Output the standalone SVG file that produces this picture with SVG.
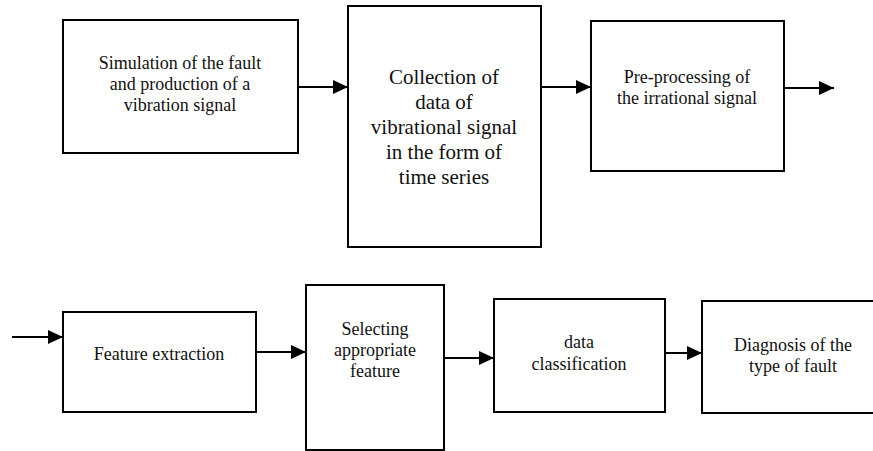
<svg xmlns="http://www.w3.org/2000/svg" width="873" height="451" viewBox="0 0 873 451">
<style>
.box{fill:#fff;stroke:#000;stroke-width:2}
.t{font-family:"Liberation Serif","Times New Roman","DejaVu Serif",serif;font-size:18px;fill:#111;text-anchor:middle}
.big{font-size:21px}
.c{stroke:#000;stroke-width:2;fill:none;marker-end:url(#ah)}
</style>
<defs>
<marker id="ah" markerUnits="userSpaceOnUse" markerWidth="17" markerHeight="16" refX="16" refY="8" orient="auto">
<path d="M1,1 L16,8 L1,15 Z" fill="#000"/>
</marker>
</defs>
<rect width="873" height="451" fill="#fff"/>
<g id="n1"><rect class="box" x="63" y="20" width="235" height="133"/>
<text class="t" x="180" y="69">Simulation of the fault</text>
<text class="t" x="180" y="90">and production of a</text>
<text class="t" x="180" y="111">vibration signal</text></g>
<g id="n2"><rect class="box" x="348" y="6" width="193" height="241"/>
<text class="t big" x="444" y="84">Collection of</text>
<text class="t big" x="444" y="109">data of</text>
<text class="t big" x="444" y="134">vibrational signal</text>
<text class="t big" x="444" y="159">in the form of</text>
<text class="t big" x="444" y="184">time series</text></g>
<g id="n3"><rect class="box" x="591" y="21" width="193" height="150"/>
<text class="t" x="687" y="83">Pre-processing of</text>
<text class="t" x="687" y="104">the irrational signal</text></g>
<g id="n4"><rect class="box" x="63" y="312" width="193" height="100"/>
<text class="t" x="159" y="360">Feature extraction</text></g>
<g id="n5"><rect class="box" x="306" y="285" width="138" height="165"/>
<text class="t" x="375" y="335">Selecting</text>
<text class="t" x="375" y="356">appropriate</text>
<text class="t" x="375" y="377">feature</text></g>
<g id="n6"><rect class="box" x="494" y="299" width="171" height="113"/>
<text class="t" x="579" y="348">data</text>
<text class="t" x="579" y="370">classification</text></g>
<g id="n7"><rect class="box" x="702" y="301" width="184" height="112"/>
<text class="t" x="793" y="351">Diagnosis of the</text>
<text class="t" x="793" y="372">type of fault</text></g>
<g id="connectors">
<line class="c" x1="298" y1="87" x2="348" y2="87"/>
<line class="c" x1="541" y1="87" x2="591" y2="87"/>
<line class="c" x1="784" y1="88" x2="834" y2="88"/>
<line class="c" x1="12" y1="337" x2="63" y2="337"/>
<line class="c" x1="256" y1="352" x2="306" y2="352"/>
<line class="c" x1="444" y1="358" x2="494" y2="358"/>
<line class="c" x1="665" y1="353" x2="702" y2="353"/>
</g>
</svg>
